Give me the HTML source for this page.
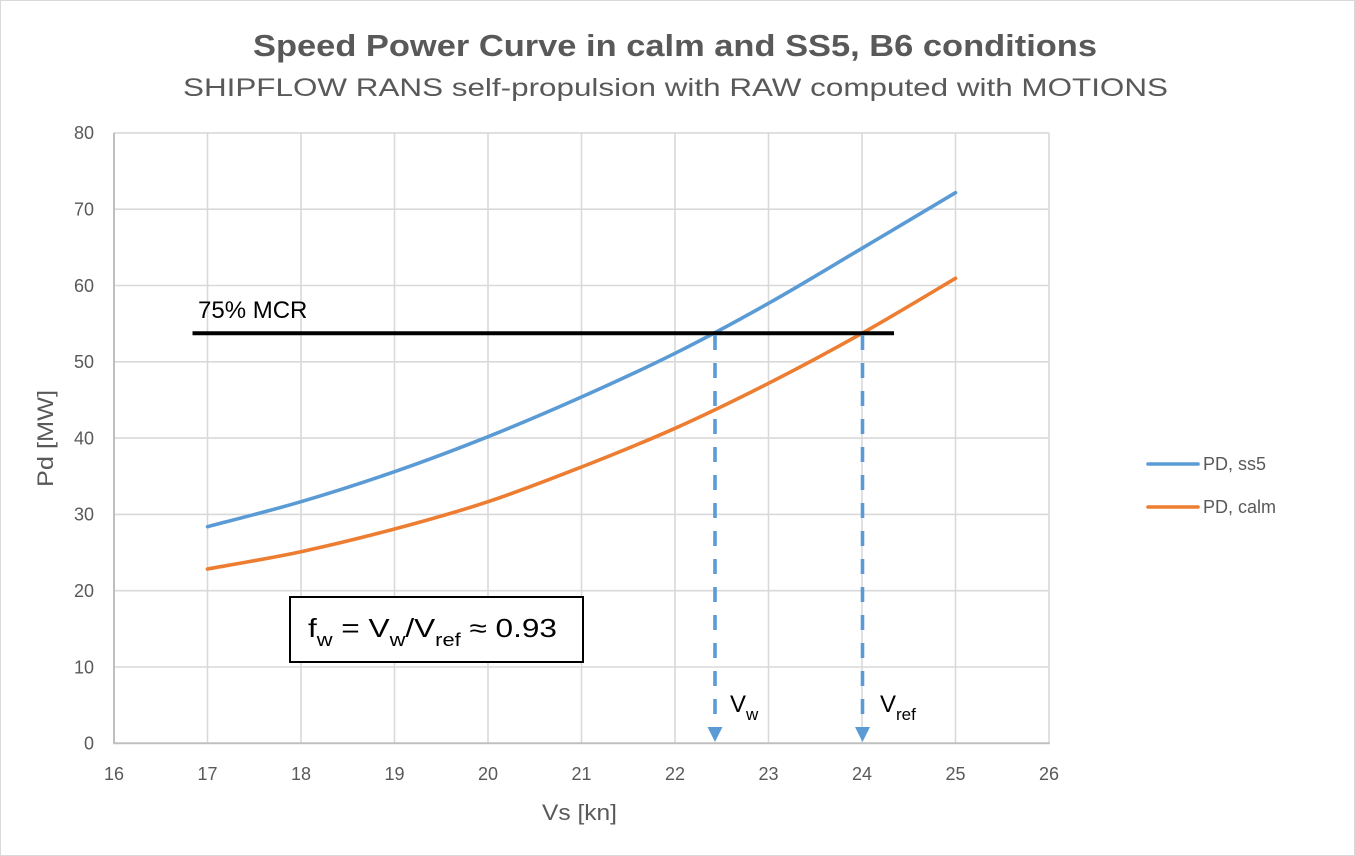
<!DOCTYPE html>
<html>
<head>
<meta charset="utf-8">
<style>
html,body{margin:0;padding:0;background:#fff;}
svg{display:block;}
text{font-family:"Liberation Sans",sans-serif;}
</style>
</head>
<body>
<svg width="1355" height="856" viewBox="0 0 1355 856" xmlns="http://www.w3.org/2000/svg">
<rect x="0.5" y="0.5" width="1354" height="855" fill="#fff" stroke="#d9d9d9" stroke-width="1"/>

<!-- Titles -->
<text x="675" y="56" text-anchor="middle" font-size="31" font-weight="bold" fill="#595959" textLength="844" lengthAdjust="spacingAndGlyphs">Speed Power Curve in calm and SS5, B6 conditions</text>
<text x="675.5" y="96" text-anchor="middle" font-size="25" fill="#595959" textLength="985" lengthAdjust="spacingAndGlyphs">SHIPFLOW RANS self-propulsion with RAW computed with MOTIONS</text>

<!-- Gridlines horizontal -->
<g stroke="#d9d9d9" stroke-width="1.6">
<line x1="114" y1="667" x2="1049" y2="667"/>
<line x1="114" y1="590.7" x2="1049" y2="590.7"/>
<line x1="114" y1="514.4" x2="1049" y2="514.4"/>
<line x1="114" y1="438.1" x2="1049" y2="438.1"/>
<line x1="114" y1="361.8" x2="1049" y2="361.8"/>
<line x1="114" y1="285.5" x2="1049" y2="285.5"/>
<line x1="114" y1="209.2" x2="1049" y2="209.2"/>
<line x1="114" y1="132.9" x2="1049" y2="132.9"/>
<!-- vertical -->
<line x1="207.5" y1="132.9" x2="207.5" y2="743.3"/>
<line x1="301" y1="132.9" x2="301" y2="743.3"/>
<line x1="394.5" y1="132.9" x2="394.5" y2="743.3"/>
<line x1="488" y1="132.9" x2="488" y2="743.3"/>
<line x1="581.5" y1="132.9" x2="581.5" y2="743.3"/>
<line x1="675" y1="132.9" x2="675" y2="743.3"/>
<line x1="768.5" y1="132.9" x2="768.5" y2="743.3"/>
<line x1="862" y1="132.9" x2="862" y2="743.3"/>
<line x1="955.5" y1="132.9" x2="955.5" y2="743.3"/>
<line x1="1049" y1="132.9" x2="1049" y2="743.3"/>
</g>
<!-- Axes -->
<line x1="114" y1="132.9" x2="114" y2="744" stroke="#bfbfbf" stroke-width="2"/>
<line x1="113" y1="743.3" x2="1049.8" y2="743.3" stroke="#bfbfbf" stroke-width="2"/>

<!-- Y tick labels -->
<g font-size="18" fill="#595959" text-anchor="end">
<text x="94" y="749.6">0</text>
<text x="94" y="673.3">10</text>
<text x="94" y="597">20</text>
<text x="94" y="520.7">30</text>
<text x="94" y="444.4">40</text>
<text x="94" y="368.1">50</text>
<text x="94" y="291.8">60</text>
<text x="94" y="215.5">70</text>
<text x="94" y="139.2">80</text>
</g>
<!-- X tick labels -->
<g font-size="18" fill="#595959" text-anchor="middle">
<text x="114" y="780">16</text>
<text x="207.5" y="780">17</text>
<text x="301" y="780">18</text>
<text x="394.5" y="780">19</text>
<text x="488" y="780">20</text>
<text x="581.5" y="780">21</text>
<text x="675" y="780">22</text>
<text x="768.5" y="780">23</text>
<text x="862" y="780">24</text>
<text x="955.5" y="780">25</text>
<text x="1049" y="780">26</text>
</g>

<!-- Axis titles -->
<text x="579.5" y="820" text-anchor="middle" font-size="22" fill="#595959" textLength="75" lengthAdjust="spacingAndGlyphs">Vs [kn]</text>
<text transform="translate(53,438.5) rotate(-90)" x="0" y="0" text-anchor="middle" font-size="22" fill="#595959" textLength="97" lengthAdjust="spacingAndGlyphs">Pd [MW]</text>

<!-- Series -->
<path d="M207.5,526.7 C223.1,522.5 269.8,510.9 301,501.7 C332.2,492.5 363.3,482.5 394.5,471.7 C425.7,460.9 456.8,449.15 488,436.7 C519.2,424.25 550.3,410.9 581.5,397 C612.7,383.1 643.8,368.9 675,353.3 C706.2,337.7 737.3,320.8 768.5,303.3 C799.7,285.8 830.8,266.7 862,248.3 C893.2,229.9 939.9,202 955.5,192.7" fill="none" stroke="#5B9BD5" stroke-width="3.6" stroke-linecap="round"/>
<path d="M207.5,569 C223.1,566.1 269.8,558.4 301,551.7 C332.2,545 363.3,537.3 394.5,529 C425.7,520.7 456.8,512 488,501.7 C519.2,491.4 550.3,479.2 581.5,467 C612.7,454.8 643.8,442.25 675,428.3 C706.2,414.35 737.3,399.1 768.5,383.3 C799.7,367.5 830.8,350.8 862,333.3 C893.2,315.8 939.9,287.5 955.5,278.3" fill="none" stroke="#ED7D31" stroke-width="3.6" stroke-linecap="round"/>

<!-- MCR line -->
<line x1="192.5" y1="333.3" x2="894" y2="333.3" stroke="#000" stroke-width="4"/>
<text x="198" y="318" font-size="24" fill="#000">75% MCR</text>

<!-- Dashed arrows -->
<line x1="715" y1="335" x2="715" y2="727" stroke="#5B9BD5" stroke-width="3.6" stroke-dasharray="15 13"/>
<polygon points="707.5,727 722.5,727 715,742" fill="#5B9BD5"/>
<line x1="862.5" y1="335" x2="862.5" y2="727" stroke="#5B9BD5" stroke-width="3.6" stroke-dasharray="15 13"/>
<polygon points="855,727 870,727 862.5,742" fill="#5B9BD5"/>

<text x="730" y="712" font-size="24" fill="#000">V<tspan font-size="17" dy="8">w</tspan></text>
<text x="880" y="712" font-size="24" fill="#000">V<tspan font-size="17" dy="8">ref</tspan></text>

<!-- Formula box -->
<rect x="290" y="597" width="293" height="65" fill="#fff" stroke="#000" stroke-width="2"/>
<text x="308" y="637" font-size="26" fill="#000" textLength="249" lengthAdjust="spacingAndGlyphs">f<tspan font-size="18" dy="9">w</tspan><tspan dy="-9"> = V</tspan><tspan font-size="18" dy="9">w</tspan><tspan dy="-9">/V</tspan><tspan font-size="18" dy="9">ref</tspan><tspan dy="-9"> ≈ 0.93</tspan></text>

<!-- Legend -->
<line x1="1148" y1="464" x2="1198" y2="464" stroke="#5B9BD5" stroke-width="3.6" stroke-linecap="round"/>
<text x="1203" y="470" font-size="18" fill="#595959">PD, ss5</text>
<line x1="1148" y1="507" x2="1198" y2="507" stroke="#ED7D31" stroke-width="3.6" stroke-linecap="round"/>
<text x="1203" y="513" font-size="18" fill="#595959">PD, calm</text>
</svg>
</body>
</html>
